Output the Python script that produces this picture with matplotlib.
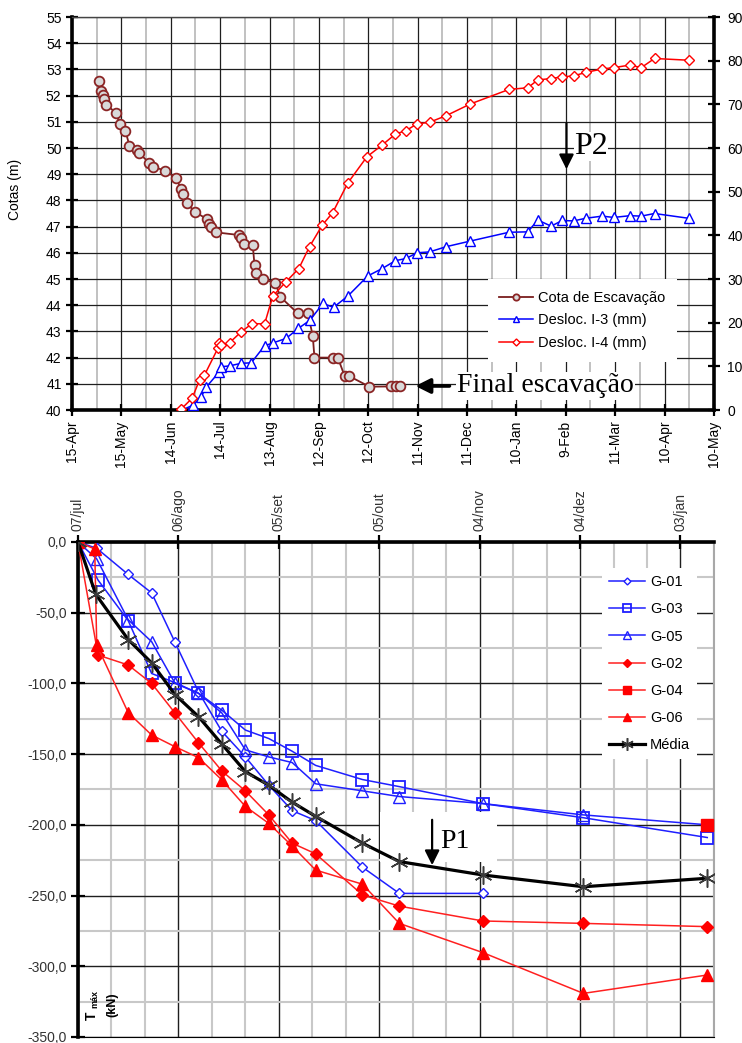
#!/usr/bin/env python3
import numpy as np
import matplotlib
matplotlib.use("Agg")
import matplotlib.pyplot as plt
from matplotlib.ticker import MultipleLocator
from matplotlib.patches import Rectangle

plt.rcParams['font.family'] = ['Liberation Sans', 'DejaVu Sans']

# ---------------- top chart: excavation level and inclinometer displacements
# x = days after 15-Apr
top_tick_days = list(range(0, 391, 30))
top_tick_labels = ['15-Apr', '15-May', '14-Jun', '14-Jul', '13-Aug', '12-Sep', '12-Oct',
                   '11-Nov', '11-Dec', '10-Jan', '9-Feb', '11-Mar', '10-Apr', '10-May']

cota_days = [16.7, 17.7, 18.7, 19.7, 20.8, 26.8, 28.9, 32.5, 34.9, 39.6, 41.0, 47.0, 49.0,
             56.8, 62.9, 66.3, 67.7, 69.7, 75.0, 81.9, 83.5, 84.6, 87.6, 101.3, 102.7, 104.8,
             109.8, 110.9, 111.9, 115.9, 123.6, 126.5, 137.2, 143.3, 146.3, 147.3, 158.4,
             161.5, 165.6, 168.2, 180.7, 193.9, 197.0, 199.0]
cota_m = [52.56, 52.19, 52.02, 51.86, 51.64, 51.35, 50.92, 50.65, 50.09, 49.92, 49.80, 49.42,
          49.29, 49.13, 48.87, 48.45, 48.23, 47.89, 47.55, 47.29, 47.10, 47.00, 46.78, 46.68,
          46.55, 46.32, 46.30, 45.53, 45.22, 44.99, 44.86, 44.32, 43.69, 43.69, 42.82, 42.00,
          42.00, 42.00, 41.30, 41.30, 40.89, 40.90, 40.90, 40.90]

i3_days = [67.0, 73.4, 78.5, 81.5, 89.6, 90.6, 95.7, 102.8, 108.9, 117.0, 122.4, 130.1, 137.6,
           144.7, 152.4, 158.9, 167.6, 179.7, 188.5, 196.5, 203.0, 209.5, 217.2, 227.3, 242.1,
           265.4, 276.9, 283.0, 291.1, 297.8, 304.7, 312.0, 322.1, 329.0, 339.1, 345.8, 353.9,
           374.7]
i3_mm = [0.0, 1.1, 3.0, 5.2, 8.8, 9.9, 10.1, 10.7, 10.8, 14.7, 15.4, 16.4, 18.7, 20.6, 24.4,
         23.5, 26.1, 30.7, 32.4, 34.2, 34.7, 36.0, 36.2, 37.4, 38.7, 40.7, 40.8, 43.5, 42.1,
         43.4, 43.3, 43.9, 44.4, 44.1, 44.5, 44.4, 45.0, 43.9]

i4_days = [66.3, 73.0, 77.5, 80.5, 88.6, 89.6, 90.6, 95.7, 102.8, 109.5, 117.0, 122.0, 130.1,
           137.8, 144.3, 152.0, 158.4, 167.6, 179.2, 188.5, 196.5, 203.0, 209.5, 217.2, 227.3,
           242.1, 265.4, 276.9, 283.0, 291.1, 297.8, 304.7, 312.0, 322.1, 329.0, 339.1, 345.8,
           353.9, 374.7]
i4_mm = [0.2, 2.7, 6.9, 8.0, 14.1, 15.4, 14.9, 15.4, 17.9, 19.8, 19.7, 26.1, 29.4, 32.4, 37.4,
         42.3, 45.2, 52.0, 58.0, 60.7, 63.2, 64.0, 65.5, 65.9, 67.4, 70.1, 73.4, 73.8, 75.6,
         75.9, 76.3, 76.5, 77.3, 78.1, 78.4, 79.0, 78.4, 80.5, 80.1]

# ---------------- bottom chart: geogrid loads, x = days after 07/jul
bot_tick_days = list(range(0, 181, 30))
bot_tick_labels = ['07/jul', '06/ago', '05/set', '05/out', '04/nov', '04/dez', '03/jan']
bot_ytick_vals = list(range(0, -351, -50))
bot_ytick_labels = ['0,0', '-50,0', '-100,0', '-150,0', '-200,0', '-250,0', '-300,0', '-350,0']

g01_days = [0, 5.6, 15, 22, 29, 36, 43, 50, 57, 64, 71, 85, 96, 121]
g01 = [0, -4.5, -23, -36, -71, -106, -134, -152, -172, -190, -197, -230, -248.5, -248.5]

g03_days = [0, 6, 15, 22, 29, 36, 43, 50, 57, 64, 71, 85, 96, 121, 151, 188]
g03 = [0, -27, -55.6, -93, -99.5, -107, -119, -133, -139, -148, -158, -168, -173, -185, -195, -209]

g05_days = [0, 5.6, 15, 22, 29, 36, 43, 50, 57, 64, 71, 85, 96, 121, 151, 188]
g05 = [0, -12, -55, -70.5, -100, -107, -121, -147, -152, -156, -171, -176, -180, -185, -193, -200]

g02_days = [0, 6, 15, 22, 29, 36, 43, 50, 57, 64, 71, 85, 96, 121, 151, 188]
g02 = [0, -80, -87, -100, -121, -142, -162, -176, -193, -213, -220.5, -249.6, -257.5, -268,
       -269.7, -272]

g04_days = [188]
g04 = [-200]

g06_days = [0, 5, 5.6, 15, 22, 29, 36, 43, 50, 57, 64, 71, 85, 96, 121, 151, 188]
g06 = [0, -5, -72.8, -120.7, -136.5, -144.8, -152.5, -168.3, -187, -199, -215, -232, -242,
       -269.7, -290.4, -319.2, -306.2]

media_days = [0, 5.3, 15, 22, 29, 36, 43, 50, 57, 64, 71, 85, 96, 121, 151, 188]
media = [0, -37, -69, -85.5, -108, -123.5, -143, -162.4, -172, -184, -194, -213, -226, -235.5,
         -243.8, -237.8]


def plot_top(fig):
    ax = fig.add_axes([0.0970, 0.6069, 0.8652, 0.3768])
    ax.set_xlim(0, 390)
    ax.set_ylim(40, 55)
    ax.set_xticks(top_tick_days)
    ax.set_xticklabels(top_tick_labels, rotation=90)
    ax.xaxis.set_minor_locator(MultipleLocator(15))
    ax.set_yticks(range(40, 56))
    ax.set_axisbelow(True)
    ax.grid(which='major', color='#1e1e1e', lw=0.9)
    ax.grid(which='minor', axis='x', color='#bcbcbc', lw=1.3)
    ax.tick_params(which='minor', length=0)
    ax.tick_params(which='major', direction='inout', length=9, width=1.6, labelsize=10, pad=3)
    for s in ['left', 'bottom']:
        ax.spines[s].set_linewidth(2.6)
    ax.spines['top'].set_color('#444444')
    ax.spines['top'].set_linewidth(1)
    ax.spines['right'].set_visible(False)
    ax.set_ylabel('Cotas (m)', fontsize=10)
    ax.yaxis.set_label_coords(-0.078, 0.56)

    l1, = ax.plot(cota_days, cota_m, '-o', color='#7a1e1e', lw=1.3, ms=7,
                  mfc='#d9d9d9', mec='#8b2525', mew=1.3, label='Cota de Escavação', zorder=3)

    ax2 = ax.twinx()
    ax2.set_ylim(0, 90)
    ax2.set_yticks(range(0, 91, 10))
    ax2.tick_params(which='major', direction='inout', length=9, width=1.6, labelsize=10, pad=5)
    for s in ['left', 'bottom', 'top']:
        ax2.spines[s].set_visible(False)
    ax2.spines['right'].set_linewidth(2.6)

    l2, = ax2.plot(i3_days, i3_mm, '-^', color='#0000ff', lw=1.1, ms=7.5,
                   mfc='white', mec='#0000ff', mew=1.0, label='Desloc. I-3 (mm)')
    l3, = ax2.plot(i4_days, i4_mm, '-D', color='#ff0000', lw=1.1, ms=5.5,
                   mfc='white', mec='#ff0000', mew=1.0, label='Desloc. I-4 (mm)')

    leg = ax2.legend(handles=[l1, l2, l3], loc='upper left', bbox_to_anchor=(0.636, 0.352),
                     fontsize=10.5, markerscale=0.65, handlelength=2.3, handletextpad=0.35,
                     labelspacing=0.6, borderpad=0.8, fancybox=False, framealpha=1)
    leg.get_frame().set_edgecolor('none')

    # annotations
    ax2.annotate('', xy=(206.9, 5.5), xytext=(231, 5.5),
                 arrowprops=dict(arrowstyle='-|>', lw=2.6, color='black', mutation_scale=22))
    ax2.text(234, 5.5, 'Final escavação', family='Liberation Serif', fontsize=20,
             va='center', ha='left',
             bbox=dict(facecolor='white', edgecolor='none', pad=1))
    ax2.annotate('', xy=(300.4, 54.5), xytext=(300.4, 66.3),
                 arrowprops=dict(arrowstyle='-|>', lw=1.6, color='black', mutation_scale=22))
    ax2.text(305, 60.4, 'P2', family='Liberation Serif', fontsize=23, va='center', ha='left',
             bbox=dict(facecolor='white', edgecolor='none', pad=0))


def plot_bottom(fig):
    ax = fig.add_axes([0.1051, 0.0058, 0.8571, 0.4746])
    ax.set_xlim(0, 190)
    ax.set_ylim(-350, 0)
    ax.xaxis.tick_top()
    ax.set_xticks(bot_tick_days)
    ax.set_xticklabels(bot_tick_labels, rotation=90)
    ax.set_yticks(bot_ytick_vals)
    ax.set_yticklabels(bot_ytick_labels)
    ax.xaxis.set_minor_locator(MultipleLocator(10))
    ax.yaxis.set_minor_locator(MultipleLocator(25))
    ax.set_axisbelow(True)
    ax.grid(which='minor', color='#c8c8c8', lw=1.5, zorder=0)
    ax.grid(which='major', color='#1e1e1e', lw=1.0, zorder=0.5)
    ax.tick_params(which='minor', length=0)
    ax.tick_params(which='major', direction='inout', length=10, width=1.6, labelsize=10,
                   labelcolor='#333333', pad=3)
    ax.spines['left'].set_linewidth(2.6)
    ax.spines['top'].set_linewidth(2.6)
    ax.spines['right'].set_color('#a8a8a8')
    ax.spines['right'].set_linewidth(1.5)

    # white box behind P1 label
    ax.add_patch(Rectangle((90.3, -226), 35, 35, facecolor='white', edgecolor='none', zorder=1))

    blue = '#1f1fff'
    red = '#ff2020'
    handles = []
    handles.append(ax.plot(g01_days, g01, '-D', color=blue, lw=1.1, ms=5, mfc='white',
                           mec=blue, mew=1.0, label='G-01', zorder=3)[0])
    handles.append(ax.plot(g03_days, g03, '-s', color=blue, lw=1.1, ms=8, mfc='none',
                           mec=blue, mew=1.3, label='G-03', zorder=3)[0])
    handles.append(ax.plot(g05_days, g05, '-^', color=blue, lw=1.1, ms=8, mfc='none',
                           mec=blue, mew=1.0, label='G-05', zorder=3)[0])
    handles.append(ax.plot(g02_days, g02, '-D', color=red, lw=1.1, ms=6, mfc='#ff0000',
                           mec='#ff0000', label='G-02', zorder=3)[0])
    handles.append(ax.plot(g04_days, g04, '-s', color=red, lw=1.1, ms=8, mfc='#ff0000',
                           mec='#ff0000', label='G-04', zorder=3)[0])
    handles.append(ax.plot(g06_days, g06, '-^', color=red, lw=1.1, ms=8, mfc='#ff0000',
                           mec='#ff0000', label='G-06', zorder=3)[0])
    ax.plot(media_days, media, '-', color='black', lw=2.3, zorder=4)
    ax.plot(media_days, media, ls='none', marker=(6, 2, 0), ms=13, mec='#3a3a3a', mew=1.1,
            zorder=4)
    handles.append(ax.plot([], [], '-', color='black', lw=2.3, marker=(6, 2, 0), ms=13,
                           mec='#3a3a3a', mew=1.1, label='Média')[0])

    leg = ax.legend(handles=handles, loc='upper left', bbox_to_anchor=(0.812, 0.962),
                    fontsize=10.5, markerscale=0.7, handlelength=2.5, handletextpad=0.3,
                    labelspacing=0.9, borderpad=0.5, fancybox=False, framealpha=1)
    leg.get_frame().set_edgecolor('none')

    ax.annotate('', xy=(105.8, -230.5), xytext=(105.8, -194.5),
                arrowprops=dict(arrowstyle='-|>', lw=1.6, color='black', mutation_scale=22),
                zorder=5)
    ax.text(108.2, -212, 'P1', family='Liberation Serif', fontsize=20, va='center',
            ha='left', zorder=5)

    # axis title inside the plot, rotated
    fig.text(92 / 742, 1 - 1016 / 1043, 'T', rotation=90, fontsize=10, fontweight='bold',
             ha='center', va='center')
    fig.text(95 / 742, 1 - 999 / 1043, 'máx', rotation=90, fontsize=6.5, fontweight='bold',
             ha='center', va='center')
    fig.text(112 / 742, 1 - 1005 / 1043, '(kN)', rotation=90, fontsize=9, fontweight='bold',
             ha='center', va='center')


def main():
    fig = plt.figure(figsize=(7.42, 10.43), dpi=100)
    plot_top(fig)
    plot_bottom(fig)
    fig.savefig('out.png', dpi=100)


if __name__ == "__main__":
    main()
